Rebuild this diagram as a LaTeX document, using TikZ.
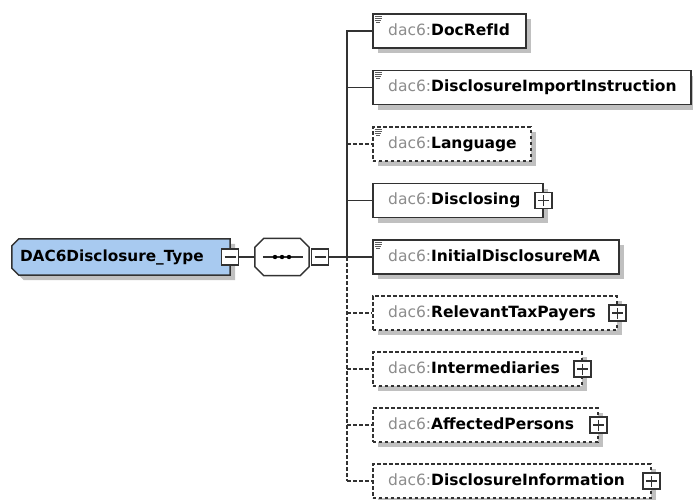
\documentclass[tikz,border=0pt]{standalone}
\usepackage{fontspec}
\setmainfont{DejaVu Sans}
\usetikzlibrary{shadows}
\definecolor{bordc}{RGB}{50,50,50}
\definecolor{shadc}{RGB}{192,192,192}
\definecolor{prefc}{RGB}{140,140,140}
\definecolor{rootc}{RGB}{168,202,240}
\newcommand\pmplus[1]{\draw[bordc, line width=1.1pt] ([xshift=-5.5pt]#1.center) -- ([xshift=5.5pt]#1.center) ([yshift=-5.5pt]#1.center) -- ([yshift=5.5pt]#1.center);}
\newcommand\pmminus[1]{\draw[bordc, line width=1.1pt] ([xshift=-5.5pt]#1.center) -- ([xshift=5.5pt]#1.center);}
\newcommand\simpleicon[1]{\draw[bordc!80, line width=0.8pt] ([shift={(2.5,3)}]#1.north west) -- ++(7,0) ([shift={(2.5,5)}]#1.north west) -- ++(7,0) ([shift={(2.5,7)}]#1.north west) -- ++(6,0) ([shift={(4,9)}]#1.north west) -- ++(4,0);}
\begin{document}
\begin{tikzpicture}[x=1pt,y=-1pt,
  elem/.style={draw=bordc, line width=1.5pt, fill=white, anchor=west, minimum height=34pt, inner sep=0pt,
    general shadow={fill=shadc, shadow xshift=5pt, shadow yshift=-5pt}},
  opt/.style={elem, dash pattern=on 3.5pt off 2.5pt},
  lbl/.style={anchor=west, inner sep=0pt, text height=11pt, text depth=3pt, font=\fontsize{15.5}{18}\selectfont},
  rootlbl/.style={lbl, font=\fontsize{15.3}{18}\selectfont\bfseries},
  pm/.style={draw=bordc, line width=1.3pt, fill=white, minimum width=17pt, minimum height=16pt, inner sep=0pt},
  conn/.style={draw=bordc, line width=1.5pt},
  optconn/.style={conn, dash pattern=on 3.5pt off 2.5pt}]
\useasboundingbox (0,0) rectangle (693,499);

% root
\node[minimum width=218pt, minimum height=36pt, inner sep=0pt] (root) at (121,257) {};
\path[fill=rootc, draw=bordc, line width=1.5pt, general shadow={fill=shadc, shadow xshift=5pt, shadow yshift=-5pt}]
  ([xshift=7pt]root.north west) -- (root.north east) -- (root.south east) -- ([xshift=7pt]root.south west)
  -- ([yshift=7pt]root.south west) -- ([yshift=-7pt]root.north west) -- cycle;
\node[rootlbl] (rootL) at ([xshift=8pt]root.west) {DAC6Disclosure\_Type};
\node[pm] (rm) at (root.east) {};
\pmminus{rm}

% sequence compositor
\node[minimum width=54pt, minimum height=37pt, inner sep=0pt] (seq) at (282,257) {};
\path[fill=white, draw=bordc, line width=1.5pt]
  ([xshift=9pt]seq.north west) -- ([xshift=-9pt]seq.north east) -- ([yshift=-9pt]seq.north east)
  -- ([yshift=9pt]seq.south east) -- ([xshift=-9pt]seq.south east) -- ([xshift=9pt]seq.south west)
  -- ([yshift=9pt]seq.south west) -- ([yshift=-9pt]seq.north west) -- cycle;
\draw[bordc, line width=1.2pt] ([xshift=8pt]seq.west) -- ([xshift=-6pt]seq.east);
\foreach \dx in {-7,0,7} \fill[black] ([xshift=\dx pt]seq.center) circle (2.2pt);
\node[pm] (sm) at (320,257) {};
\pmminus{sm}
\draw[conn] (rm.east) -- (seq.west);

% children
\node[elem, minimum width=153pt] (docref) at (372,31) {};
\node[elem, minimum width=318pt] (imp) at (372,87.5) {};
\node[opt, minimum width=158pt] (lang) at (372,144) {};
\node[elem, minimum width=170pt] (discl) at (372,200.5) {};
\node[elem, minimum width=246pt] (init) at (372,257) {};
\node[opt, minimum width=244pt] (rel) at (372,313) {};
\node[opt, minimum width=209pt] (inter) at (372,369) {};
\node[opt, minimum width=225pt] (aff) at (372,425) {};
\node[opt, minimum width=278pt] (dinfo) at (372,481) {};

\simpleicon{docref}
\simpleicon{imp}
\simpleicon{lang}
\simpleicon{init}

\node[lbl] (docrefL) at ([xshift=16pt]docref.west) {\textcolor{prefc}{dac6:}\textbf{DocRefId}};
\node[lbl] (impL) at ([xshift=16pt]imp.west) {\textcolor{prefc}{dac6:}\textbf{DisclosureImportInstruction}};
\node[lbl] (langL) at ([xshift=16pt]lang.west) {\textcolor{prefc}{dac6:}\textbf{Language}};
\node[lbl] (disclL) at ([xshift=16pt]discl.west) {\textcolor{prefc}{dac6:}\textbf{Disclosing}};
\node[lbl] (initL) at ([xshift=16pt]init.west) {\textcolor{prefc}{dac6:}\textbf{InitialDisclosureMA}};
\node[lbl] (relL) at ([xshift=16pt]rel.west) {\textcolor{prefc}{dac6:}\textbf{RelevantTaxPayers}};
\node[lbl] (interL) at ([xshift=16pt]inter.west) {\textcolor{prefc}{dac6:}\textbf{Intermediaries}};
\node[lbl] (affL) at ([xshift=16pt]aff.west) {\textcolor{prefc}{dac6:}\textbf{AffectedPersons}};
\node[lbl] (dinfoL) at ([xshift=16pt]dinfo.west) {\textcolor{prefc}{dac6:}\textbf{DisclosureInformation}};

\node[pm] (disclP) at (discl.east) {}; \pmplus{disclP}
\node[pm] (relP) at (rel.east) {}; \pmplus{relP}
\node[pm] (interP) at (inter.east) {}; \pmplus{interP}
\node[pm] (affP) at (aff.east) {}; \pmplus{affP}
\node[pm] (dinfoP) at (dinfo.east) {}; \pmplus{dinfoP}

% connectors
\coordinate (sp) at (347,257);
\draw[conn] (sm.east) -- (sp);
\draw[conn, line cap=rect] (docref.west -| sp) -- (init.west -| sp);
\draw[optconn] (init.west -| sp) -- (dinfo.west -| sp);
\draw[conn, line cap=rect] (docref.west -| sp) -- (docref.west);
\draw[conn] (imp.west -| sp) -- (imp.west);
\draw[optconn] (lang.west -| sp) -- (lang.west);
\draw[conn] (discl.west -| sp) -- (discl.west);
\draw[conn] (init.west -| sp) -- (init.west);
\draw[optconn] (rel.west -| sp) -- (rel.west);
\draw[optconn] (inter.west -| sp) -- (inter.west);
\draw[optconn] (aff.west -| sp) -- (aff.west);
\draw[optconn] (dinfo.west -| sp) -- (dinfo.west);
\end{tikzpicture}
\end{document}
